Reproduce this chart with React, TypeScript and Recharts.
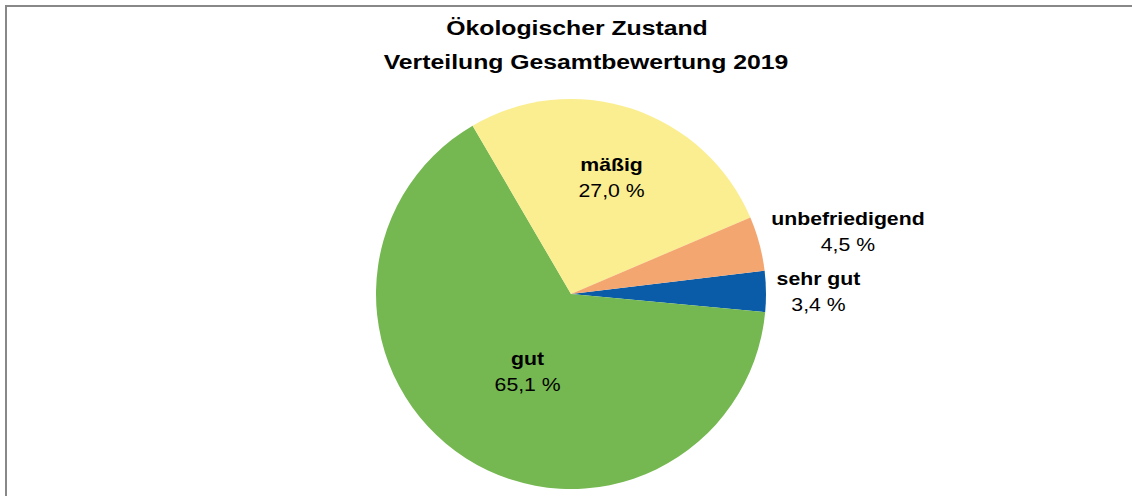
import React from 'react';
import { PieChart, Pie, Cell } from 'recharts';

const categories = ['sehr gut', 'gut', 'mäßig', 'unbefriedigend'];
const shares = [3.4, 65.1, 27.0, 4.5];
const colors = ['#0A5CA8', '#75B851', '#FAEE91', '#F4A670'];
const titleLines = ['Ökologischer Zustand', 'Verteilung Gesamtbewertung 2019'];

const data = categories.map((name, i) => ({ name, value: shares[i] }));

const RAD = Math.PI / 180;
const FONT = '"Liberation Sans", Arial, sans-serif';
const STRETCH = 1.18;

// label placement per slice: radius fraction of outer radius plus a nudge
const labelPlacement = [
  { r: 1, dx: 52.5, dy: 0 },
  { r: 0.452, dx: 4, dy: 3 },
  { r: 0.63, dx: 2, dy: 0 },
  { r: 1, dx: 88.6, dy: -12.5 },
];

const fmt = (v: number) => v.toFixed(1).replace('.', ',') + ' %';

const renderLabel = (props: any) => {
  const { cx, cy, midAngle, outerRadius, index, name, value } = props;
  const p = labelPlacement[index];
  const rr = outerRadius * p.r;
  const x = cx + rr * Math.cos(-midAngle * RAD) + p.dx;
  const y = cy + rr * Math.sin(-midAngle * RAD) + p.dy;
  return (
    <g key={`lbl-${index}`} transform={`translate(${x},${y}) scale(${STRETCH},1)`}>
      <text x={0} y={-6} textAnchor="middle" fontFamily={FONT} fontSize={18} fontWeight="bold" fill="#000">
        {name}
      </text>
      <text x={0} y={20} textAnchor="middle" fontFamily={FONT} fontSize={18} fill="#000">
        {fmt(value)}
      </text>
    </g>
  );
};

export default function App() {
  return (
    <div style={{ position: 'absolute', left: 0, top: 0, width: 1132, height: 496, background: '#fff', overflow: 'hidden' }}>
      <div
        style={{
          position: 'absolute',
          left: 5,
          top: 5,
          width: 1140,
          height: 500,
          borderTop: '2px solid #888',
          borderLeft: '2px solid #888',
          boxSizing: 'border-box',
        }}
      />
      <div style={{ position: 'absolute', left: 0, top: 0 }}>
        <PieChart width={1132} height={496} margin={{ top: 0, right: 0, bottom: 0, left: 0 }}>
          <Pie
            data={data}
            dataKey="value"
            nameKey="name"
            cx={571}
            cy={294}
            outerRadius={195}
            startAngle={6.9}
            endAngle={-353.1}
            stroke="none"
            label={renderLabel}
            labelLine={false}
            isAnimationActive={false}
          >
            {data.map((d, i) => (
              <Cell key={d.name} fill={colors[i]} />
            ))}
          </Pie>
        </PieChart>
      </div>
      <svg width={1132} height={100} style={{ position: 'absolute', left: 0, top: 0 }}>
        <g transform={`translate(577,35) scale(${STRETCH},1)`}>
          <text x={0} y={0} textAnchor="middle" fontFamily={FONT} fontSize={21} fontWeight="bold" fill="#000">
            {titleLines[0]}
          </text>
        </g>
        <g transform={`translate(586,69) scale(${STRETCH},1)`}>
          <text x={0} y={0} textAnchor="middle" fontFamily={FONT} fontSize={21} fontWeight="bold" fill="#000">
            {titleLines[1]}
          </text>
        </g>
      </svg>
    </div>
  );
}
